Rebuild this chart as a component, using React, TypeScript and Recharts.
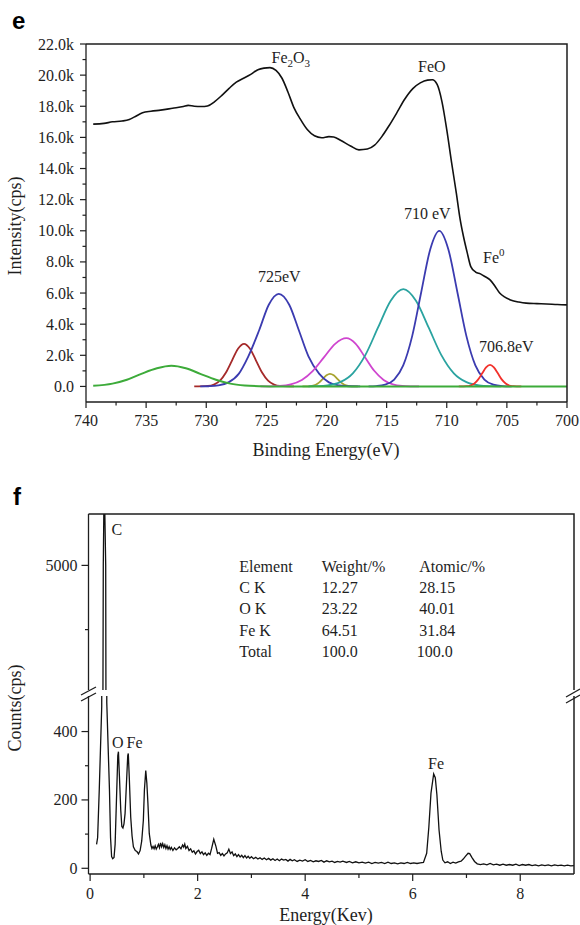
import { LineChart, Line, XAxis, YAxis } from "recharts";

const SERIF = "'Liberation Serif', 'Times New Roman', serif";
const SANS = "'Liberation Sans', Arial, sans-serif";
const INK = "#1e1e1e";

// ---------- panel e : Fe 2p XPS, binding energy (eV) vs intensity (cps) ----------
const eTicksX = [740, 737.5, 735, 732.5, 730, 727.5, 725, 722.5, 720, 717.5, 715, 712.5, 710, 707.5, 705, 702.5, 700];
const eTicksY = [0, 1000, 2000, 3000, 4000, 5000, 6000, 7000, 8000, 9000, 10000, 11000, 12000, 13000, 14000, 15000, 16000, 17000, 18000, 19000, 20000, 21000, 22000];

const survey: [number, number][] = [
  [739.4, 16850], [738.5, 16900], [737.8, 17000], [737.0, 17050], [736.4, 17150], [736.0, 17300],
  [735.3, 17580], [734.6, 17680], [733.8, 17750], [732.8, 17870], [731.9, 17980], [731.5, 18060],
  [731.0, 18000], [730.4, 17980], [729.9, 18020], [729.3, 18300], [728.7, 18700], [728.1, 19150],
  [727.5, 19550], [726.9, 19800], [726.3, 20050], [725.7, 20350], [725.2, 20450], [724.7, 20480],
  [724.2, 20300], [723.7, 19800], [723.2, 18900], [722.7, 17900], [722.2, 17200], [721.6, 16500],
  [721.0, 16100], [720.4, 15980], [719.8, 16050], [719.4, 16030], [718.8, 15800], [718.0, 15450],
  [717.3, 15200], [716.6, 15250], [716.0, 15500], [715.4, 16050], [714.8, 16750], [714.1, 17650],
  [713.5, 18450], [712.8, 19150], [712.2, 19500], [711.6, 19680], [711.2, 19700], [710.8, 19400],
  [710.4, 18300], [710.0, 16500], [709.6, 14400], [709.2, 12400], [708.9, 10800], [708.6, 9600],
  [708.3, 8600], [708.0, 7700], [707.6, 7350], [707.2, 7230], [706.8, 7050], [706.4, 6850],
  [706.0, 6450], [705.6, 6000], [705.2, 5750], [704.7, 5560], [704.0, 5420], [703.4, 5350],
  [702.5, 5320], [701.7, 5300], [700.8, 5260], [700.0, 5240],
];

const fitGreen: [number, number][] = [
  [739.4, 40], [737.8, 180], [736.6, 430], [735.4, 810], [734.1, 1170], [732.9, 1330], [731.7, 1170],
  [730.5, 810], [729.2, 430], [728.0, 180], [726.8, 60], [725.5, 15], [724.0, 0], [700.0, 0],
];
const fitBrown: [number, number][] = [
  [731.0, 0], [729.86, 30], [729.36, 120], [728.86, 370], [728.36, 890], [727.86, 1660], [727.36, 2420],
  [726.86, 2740], [726.36, 2420], [725.86, 1660], [725.36, 890], [724.86, 370], [724.36, 120], [723.86, 30], [722.7, 0],
];
const fitBlue725: [number, number][] = [
  [730.5, 0], [729.8, 13], [729.0, 66], [728.15, 262], [727.3, 805], [726.5, 1930], [725.6, 3610], [724.8, 5250],
  [723.97, 5950], [723.1, 5250], [722.3, 3610], [721.5, 1930], [720.6, 805], [719.8, 262], [718.95, 66], [718.1, 13], [717.2, 0],
];
const fitOlive: [number, number][] = [
  [722.0, 0], [721.5, 9], [721.2, 36], [720.9, 110], [720.6, 263], [720.3, 492], [720.0, 714], [719.71, 810],
  [719.4, 714], [719.1, 492], [718.8, 263], [718.5, 110], [718.2, 36], [717.9, 9], [717.4, 0],
];
const fitMagenta: [number, number][] = [
  [725.5, 0], [724.8, 7], [723.9, 34], [722.98, 136], [722.05, 420], [721.13, 1006], [720.2, 1880], [719.28, 2735],
  [718.35, 3100], [717.57, 2735], [716.8, 1880], [716.03, 1006], [715.25, 420], [714.48, 136], [713.7, 34], [712.9, 7], [712.3, 0],
];
const fitTeal: [number, number][] = [
  [721.5, 0], [720.96, 14], [719.91, 69], [718.86, 275], [717.81, 845], [716.76, 2030], [715.71, 3790], [714.66, 5510],
  [713.61, 6250], [712.56, 5510], [711.51, 3790], [710.46, 2030], [709.41, 845], [708.36, 275], [707.31, 69], [706.26, 14], [705.5, 0],
];
const fitBlue710: [number, number][] = [
  [716.5, 0], [715.87, 22], [715.12, 110], [714.37, 440], [713.62, 1350], [712.87, 3250], [712.12, 6070], [711.37, 8820],
  [710.62, 10000], [709.87, 8820], [709.12, 6070], [708.37, 3250], [707.62, 1350], [706.87, 440], [706.12, 110], [705.37, 22], [704.6, 0],
];
const fitRed: [number, number][] = [
  [709.0, 0], [708.35, 15], [708.03, 61], [707.7, 188], [707.38, 452], [707.05, 844], [706.73, 1226], [706.4, 1390],
  [706.08, 1226], [705.75, 844], [705.43, 452], [705.1, 188], [704.78, 61], [704.45, 15], [703.8, 0],
];

// ---------- panel f : EDS spectrum, energy (keV) vs counts ----------
const fTicksX = [0, 1, 2, 3, 4, 5, 6, 7, 8];
const fTicksLow = [0, 100, 200, 300, 400];
const fTicksHigh = [4500, 5000];

const eds: [number, number][] = [
  [0.12, 70], [0.14, 90], [0.17, 229], [0.216, 473], [0.245, 5000], [0.262, 5700], [0.29, 5000], [0.31, 484],
  [0.36, 229], [0.38, 90], [0.4, 34], [0.42, 28], [0.445, 32], [0.465, 70], [0.49, 200], [0.515, 330], [0.527, 341],
  [0.545, 270], [0.57, 170], [0.59, 122], [0.61, 118], [0.63, 130], [0.65, 160], [0.675, 245], [0.7, 330], [0.71, 336],
  [0.73, 260], [0.755, 150], [0.78, 95], [0.805, 63], [0.84, 52], [0.87, 49], [0.9, 42], [0.93, 52], [0.96, 80],
  [0.99, 140], [1.01, 230], [1.035, 286], [1.055, 250], [1.075, 190], [1.1, 102], [1.13, 68], [1.15, 58], [1.17, 64],
  [1.19, 57], [1.21, 66], [1.23, 56], [1.25, 62], [1.27, 70], [1.29, 60], [1.31, 74], [1.33, 63], [1.35, 72], [1.37, 61],
  [1.39, 69], [1.41, 58], [1.43, 66], [1.45, 56], [1.47, 63], [1.49, 55], [1.51, 61], [1.54, 52], [1.57, 60], [1.6, 54],
  [1.63, 58], [1.66, 63], [1.69, 57], [1.72, 68], [1.74, 62], [1.76, 71], [1.78, 58], [1.81, 64], [1.84, 52], [1.87, 57],
  [1.9, 47], [1.93, 51], [1.96, 42], [1.99, 49], [2.02, 53], [2.05, 43], [2.08, 48], [2.11, 40], [2.14, 45], [2.17, 38],
  [2.2, 44], [2.23, 40], [2.26, 58], [2.3, 85], [2.34, 64], [2.37, 44], [2.4, 46], [2.43, 38], [2.46, 43], [2.49, 36],
  [2.52, 42], [2.55, 45], [2.58, 56], [2.61, 43], [2.64, 48], [2.67, 37], [2.7, 42], [2.73, 34], [2.76, 40], [2.79, 33],
  [2.82, 38], [2.85, 31], [2.88, 37], [2.91, 30], [2.94, 35], [2.97, 29], [3.0, 34], [3.04, 28], [3.08, 32], [3.12, 27],
  [3.16, 31], [3.2, 26], [3.24, 30], [3.28, 25], [3.32, 29], [3.36, 24], [3.4, 28], [3.44, 23], [3.48, 27], [3.52, 22],
  [3.56, 27], [3.6, 24], [3.64, 26], [3.68, 21], [3.72, 26], [3.76, 22], [3.8, 25], [3.85, 20], [3.9, 24], [3.95, 21],
  [4.0, 25], [4.05, 20], [4.1, 23], [4.15, 19], [4.2, 22], [4.25, 20], [4.3, 23], [4.35, 18], [4.4, 22], [4.45, 19],
  [4.5, 21], [4.55, 17], [4.6, 20], [4.65, 18], [4.7, 21], [4.77, 17], [4.82, 20], [4.88, 16], [4.94, 19], [5.0, 16],
  [5.06, 18], [5.12, 15], [5.18, 18], [5.24, 14], [5.3, 17], [5.36, 15], [5.42, 17], [5.48, 14], [5.54, 18], [5.6, 14],
  [5.66, 16], [5.72, 13], [5.78, 16], [5.84, 14], [5.9, 17], [5.96, 14], [6.02, 16], [6.08, 14], [6.14, 16], [6.2, 17],
  [6.26, 44], [6.3, 120], [6.34, 220], [6.39, 276], [6.42, 265], [6.45, 215], [6.49, 112], [6.53, 50], [6.56, 24],
  [6.6, 16], [6.65, 19], [6.7, 14], [6.75, 18], [6.8, 15], [6.85, 19], [6.9, 21], [6.94, 27], [6.98, 35], [7.03, 44],
  [7.06, 43], [7.1, 32], [7.15, 20], [7.2, 13], [7.26, 11], [7.32, 13], [7.38, 10], [7.44, 14], [7.5, 10], [7.56, 12],
  [7.62, 9], [7.68, 12], [7.74, 9], [7.8, 11], [7.86, 9], [7.92, 12], [7.98, 8], [8.04, 11], [8.1, 9], [8.16, 11],
  [8.22, 8], [8.28, 10], [8.34, 7], [8.4, 10], [8.46, 8], [8.52, 10], [8.58, 7], [8.64, 10], [8.7, 8], [8.76, 9],
  [8.82, 7], [8.88, 9], [8.94, 7], [9.0, 8],
];

const tableRows = [
  ["Element", "Weight/%", "Atomic/%"],
  ["C K", "12.27", "28.15"],
  ["O K", "23.22", "40.01"],
  ["Fe K", "64.51", "31.84"],
  ["Total", "100.0", "100.0"],
];

const pts = (a: [number, number][]) => a.map(([e, v]) => ({ e, v }));

const lineProps = { dataKey: "v", dot: false, isAnimationActive: false, activeDot: false } as const;
const axisLine = { stroke: INK, strokeWidth: 1.3 };

function YTickE(p: any) {
  const v = p.payload.value;
  const major = v % 2000 === 0;
  return (
    <g>
      <line x1={p.x - (major ? 6 : 3.5)} x2={p.x} y1={p.y} y2={p.y} stroke={INK} strokeWidth={1.2} />
      {major && (
        <text x={p.x - 12} y={p.y + 5.5} textAnchor="end" fontSize={16} fontFamily={SERIF} fill={INK}>
          {v === 0 ? "0.0" : (v / 1000).toFixed(1) + "k"}
        </text>
      )}
    </g>
  );
}

function XTickE(p: any) {
  const v = p.payload.value;
  const major = v % 5 === 0;
  return (
    <g>
      <line x1={p.x} x2={p.x} y1={p.y} y2={p.y + (major ? 6 : 3.5)} stroke={INK} strokeWidth={1.2} />
      {major && (
        <text x={p.x} y={p.y + 24} textAnchor="middle" fontSize={16} fontFamily={SERIF} fill={INK}>{v}</text>
      )}
    </g>
  );
}

function YTickF(p: any) {
  const v = p.payload.value;
  const major = v % 200 === 0 || v === 5000;
  return (
    <g>
      <line x1={p.x - (major ? 7 : 3.5)} x2={p.x} y1={p.y} y2={p.y} stroke={INK} strokeWidth={1.2} />
      {major && (
        <text x={p.x - 11} y={p.y + 5.5} textAnchor="end" fontSize={16} fontFamily={SERIF} fill={INK}>{v}</text>
      )}
    </g>
  );
}

function XTickF(p: any) {
  const v = p.payload.value;
  const major = v % 2 === 0;
  return (
    <g>
      <line x1={p.x} x2={p.x} y1={p.y} y2={p.y + (major ? 7 : 4)} stroke={INK} strokeWidth={1.2} />
      {major && (
        <text x={p.x} y={p.y + 24.5} textAnchor="middle" fontSize={16} fontFamily={SERIF} fill={INK}>{v}</text>
      )}
    </g>
  );
}

function XpsChart() {
  return (
    <LineChart width={580} height={470} margin={{ top: 44, right: 13, bottom: 0, left: 0 }}>
      <XAxis dataKey="e" type="number" domain={[700, 740]} reversed ticks={eTicksX} interval={0}
        tickSize={0} tickMargin={0} tick={XTickE} tickLine={false} axisLine={axisLine} height={68} />
      <YAxis type="number" domain={[-1000, 22000]} ticks={eTicksY} interval={0} width={86}
        tickSize={0} tickMargin={0} tick={YTickE} tickLine={false} axisLine={axisLine} />
      <Line {...lineProps} data={pts(fitOlive)} type="monotone" stroke="#a8a431" strokeWidth={1.8} />
      <Line {...lineProps} data={pts(fitBrown)} type="monotone" stroke="#a52a2a" strokeWidth={1.8} />
      <Line {...lineProps} data={pts(fitBlue725)} type="monotone" stroke="#3b3bb0" strokeWidth={1.8} />
      <Line {...lineProps} data={pts(fitMagenta)} type="monotone" stroke="#cf45cf" strokeWidth={1.8} />
      <Line {...lineProps} data={pts(fitTeal)} type="monotone" stroke="#2aa3a0" strokeWidth={1.8} />
      <Line {...lineProps} data={pts(fitBlue710)} type="monotone" stroke="#3b3bb0" strokeWidth={1.8} />
      <Line {...lineProps} data={pts(fitRed)} type="monotone" stroke="#f2312b" strokeWidth={1.8} />
      <Line {...lineProps} data={pts(fitGreen)} type="monotone" stroke="#3dab3a" strokeWidth={2} />
      <Line {...lineProps} data={pts(survey)} type="monotone" stroke="#111" strokeWidth={1.6} />
    </LineChart>
  );
}

function EdsUpper() {
  return (
    <LineChart width={580} height={230} margin={{ top: 44, right: 6, bottom: 10, left: 0 }}>
      <XAxis dataKey="e" type="number" domain={[-0.03, 9]} hide />
      <YAxis type="number" domain={[4030, 5400]} ticks={fTicksHigh} interval={0} width={88.5} allowDataOverflow
        tickSize={0} tickMargin={0} tick={YTickF} tickLine={false} axisLine={axisLine} />
      <Line {...lineProps} data={pts(eds)} type="linear" stroke="#111" strokeWidth={1.3} />
    </LineChart>
  );
}

function EdsLower() {
  return (
    <LineChart width={580} height={235} margin={{ top: 6, right: 6, bottom: 1, left: 0 }}>
      <XAxis dataKey="e" type="number" domain={[-0.03, 9]} ticks={fTicksX} interval={0} height={50}
        tickSize={0} tickMargin={0} tick={XTickF} tickLine={false} axisLine={axisLine} />
      <YAxis type="number" domain={[-16.7, 504]} ticks={fTicksLow} interval={0} width={88.5} allowDataOverflow
        tickSize={0} tickMargin={0} tick={YTickF} tickLine={false} axisLine={axisLine} />
      <Line {...lineProps} data={pts(eds)} type="linear" stroke="#111" strokeWidth={1.3} />
    </LineChart>
  );
}

const sub = { fontSize: 11 };

export default function App() {
  const txt = { fontFamily: SERIF, fontSize: 16, fill: INK };
  return (
    <div style={{ position: "absolute", left: 0, top: 0, width: 580, height: 925, background: "#fff" }}>
      <div style={{ position: "absolute", left: 0, top: 0 }}><XpsChart /></div>
      <div style={{ position: "absolute", left: 0, top: 470 }}><EdsUpper /></div>
      <div style={{ position: "absolute", left: 0, top: 690 }}><EdsLower /></div>
      <svg width={580} height={925} style={{ position: "absolute", left: 0, top: 0, pointerEvents: "none" }}>
        {/* plot frames: top and right edges (left/bottom come from the axes) */}
        <g stroke={INK} strokeWidth={1.5} fill="none">
          <path d="M86 44 H567 V402" />
          <path d="M88.5 514 H574 V690" />
          <path d="M574 696 V874" />
        </g>

        {/* panel e */}
        <text x={12} y={29} fontFamily={SANS} fontWeight="bold" fontSize={24} fill="#000">e</text>
        <text x={271.5} y={63} {...txt}>Fe<tspan {...sub} dy={4}>2</tspan><tspan dy={-4}>O</tspan><tspan {...sub} dy={4}>3</tspan></text>
        <text x={418} y={72} {...txt}>FeO</text>
        <text x={404} y={219} {...txt}>710 eV</text>
        <text x={483} y={263} {...txt}>Fe<tspan {...sub} dy={-7}>0</tspan></text>
        <text x={258} y={282} {...txt}>725eV</text>
        <text x={479} y={352} {...txt}>706.8eV</text>
        <text transform="translate(21,226) rotate(-90)" textAnchor="middle" fontFamily={SERIF} fontSize={18} fill={INK}>Intensity(cps)</text>
        <text x={326} y={456} textAnchor="middle" fontFamily={SERIF} fontSize={18} fill={INK}>Binding Energy(eV)</text>

        {/* panel f */}
        <text x={13} y={505} fontFamily={SANS} fontWeight="bold" fontSize={24} fill="#000">f</text>
        <text x={111.5} y={535} {...txt}>C</text>
        <text x={112} y={748} {...txt}>O</text>
        <text x={126.5} y={748} {...txt}>Fe</text>
        <text x={428} y={769} {...txt}>Fe</text>
        {tableRows.map((row, i) => (
          <g key={row[0]}>
            <text x={239.3} y={571.7 + i * 21.3} {...txt}>{row[0]}</text>
            <text x={321.7} y={571.7 + i * 21.3} {...txt}>{row[1]}</text>
            <text x={i === 4 ? 416.7 : 419.3} y={571.7 + i * 21.3} {...txt}>{row[2]}</text>
          </g>
        ))}
        <text transform="translate(21,708) rotate(-90)" textAnchor="middle" fontFamily={SERIF} fontSize={18} fill={INK}>Counts(cps)</text>
        <text x={326} y={921} textAnchor="middle" fontFamily={SERIF} fontSize={18} fill={INK}>Energy(Kev)</text>

        {/* axis break marks */}
        <g stroke={INK} strokeWidth={1.3}>
          <line x1={81} y1={695} x2={96} y2={687} />
          <line x1={81} y1={701} x2={96} y2={693} />
          <line x1={566} y1={697} x2={580} y2={689} />
          <line x1={566} y1={703} x2={580} y2={695} />
        </g>
      </svg>
    </div>
  );
}
